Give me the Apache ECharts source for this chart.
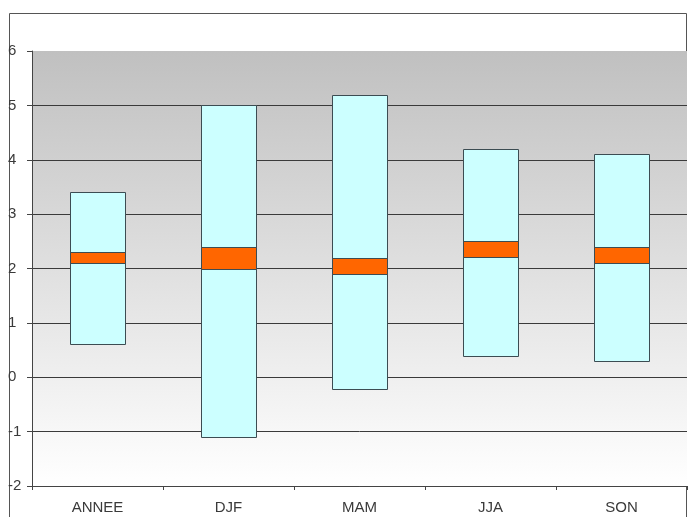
<!DOCTYPE html>
<html>
<head>
<meta charset="utf-8">
<script src="https://cdn.jsdelivr.net/npm/echarts@6/dist/echarts.min.js"></script>
<style>
  html, body { margin: 0; padding: 0; background: #ffffff; }
  #chart { width: 696px; height: 517px; }
</style>
</head>
<body>
<div id="chart"></div>
<script>
// Seasons and the range of values for each (full box and central band)
const categories = ['ANNEE', 'DJF', 'MAM', 'JJA', 'SON'];
const rangeLow   = [0.6, -1.1, -0.2, 0.4, 0.3];
const rangeHigh  = [3.4,  5.0,  5.2, 4.2, 4.1];
const bandLow    = [2.1,  2.0,  1.9, 2.2, 2.1];
const bandHigh   = [2.3,  2.4,  2.2, 2.5, 2.4];
const yTicks     = [-2, -1, 0, 1, 2, 3, 4, 5, 6];

const chart = echarts.init(document.getElementById('chart'));

function boxRenderer(fill, widthRatio) {
  return function (params, api) {
    const i = api.value(0);
    const p1 = api.coord([i, api.value(1)]);
    const p2 = api.coord([i, api.value(2)]);
    const w = api.size([1, 0])[0] * widthRatio;
    return {
      type: 'rect',
      shape: { x: Math.round(p1[0] - w / 2) + 0.5, y: Math.round(p2[1]) + 0.5, width: Math.round(w), height: Math.round(p1[1] - p2[1]) },
      style: { fill: fill, stroke: '#3c4c52', lineWidth: 1 }
    };
  };
}

// last split line (top edge of the plot) stays invisible
const splitColors = yTicks.map((v, k) => k === yTicks.length - 1 ? 'rgba(0,0,0,0)' : '#3a3a3a');

chart.setOption({
  animation: false,
  textStyle: { fontFamily: 'Liberation Sans, Arial, sans-serif' },
  graphic: [{
    type: 'rect',
    shape: { x: 9.5, y: 13.5, width: 677, height: 600 },
    style: { fill: 'none', stroke: '#555555', lineWidth: 1 },
    z: -1
  }],
  grid: {
    left: 32, top: 51, right: 9, bottom: 31,
    show: true,
    borderWidth: 0,
    backgroundColor: new echarts.graphic.LinearGradient(0, 0, 0, 1, [
      { offset: 0, color: '#c0c0c0' },
      { offset: 1, color: '#ffffff' }
    ])
  },
  xAxis: {
    type: 'category',
    data: categories,
    boundaryGap: true,
    axisLine: { onZero: false, lineStyle: { color: '#444444', width: 1 } },
    axisTick: { show: true, length: 4, lineStyle: { color: '#444444' } },
    axisLabel: { color: '#3a3a3a', fontSize: 15, margin: 14 },
    splitLine: { show: false }
  },
  yAxis: {
    type: 'value',
    min: yTicks[0],
    max: yTicks[yTicks.length - 1],
    interval: 1,
    axisLine: { show: true, lineStyle: { color: '#444444', width: 1 } },
    axisTick: { show: true, length: 5, lineStyle: { color: '#444444' } },
    axisLabel: { color: '#3a3a3a', fontSize: 15, align: 'left', margin: 24 },
    splitLine: { show: true, lineStyle: { color: splitColors, width: 1 } }
  },
  series: [
    {
      type: 'custom',
      name: 'range',
      renderItem: boxRenderer('#ccffff', 0.42),
      encode: { x: 0, y: [1, 2] },
      data: categories.map((c, i) => [i, rangeLow[i], rangeHigh[i]]),
      z: 2
    },
    {
      type: 'custom',
      name: 'band',
      renderItem: boxRenderer('#ff6600', 0.42),
      encode: { x: 0, y: [1, 2] },
      data: categories.map((c, i) => [i, bandLow[i], bandHigh[i]]),
      z: 3
    }
  ]
});
</script>
</body>
</html>
